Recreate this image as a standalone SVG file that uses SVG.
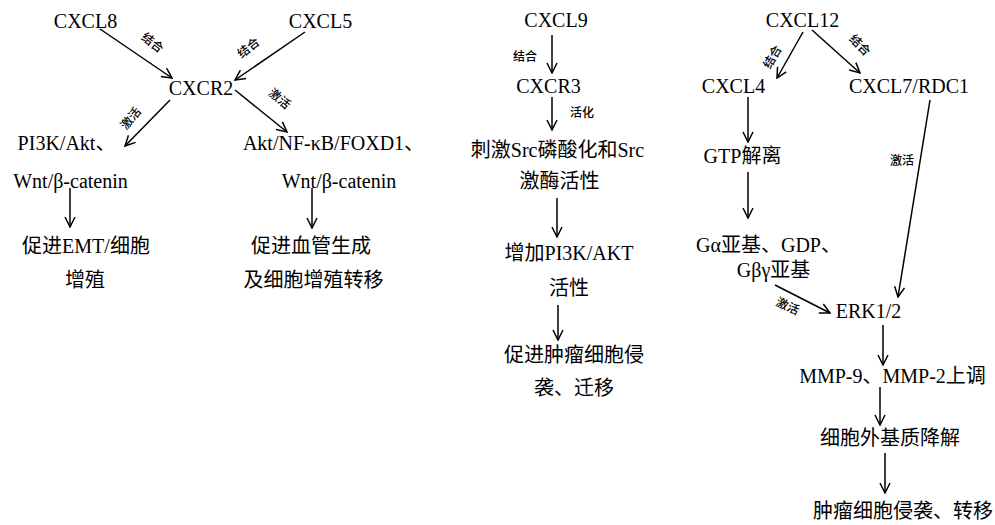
<svg xmlns="http://www.w3.org/2000/svg" width="995" height="525" viewBox="0 0 995 525">
<style>
text{font-family:"Liberation Serif","Noto Sans CJK SC",serif;fill:#000}
.n{font-size:20px;text-anchor:middle}
.l{font-size:12px;text-anchor:middle;font-family:"Noto Sans CJK SC",sans-serif;font-weight:500}
.c line{stroke:#000;stroke-width:1.5;marker-end:url(#a)}
</style>
<defs>
<marker id="a" viewBox="0 0 12 12" refX="11" refY="6" markerWidth="12" markerHeight="12" markerUnits="userSpaceOnUse" orient="auto">
<path d="M1,1 L11,6 L1,11" fill="none" stroke="#000" stroke-width="1.5"/>
</marker>
</defs>
<rect width="995" height="525" fill="#fff"/>
<g id="cxcl8"><text class="n" x="85.5" y="28">CXCL8</text></g>
<g id="cxcl5"><text class="n" x="320.5" y="28">CXCL5</text></g>
<g id="cxcr2"><text class="n" x="201" y="95">CXCR2</text></g>
<g id="pi3k"><text class="n" x="66.5" y="150">PI3K/Akt、</text><text class="n" x="70.5" y="188">Wnt/β-catenin</text></g>
<g id="emt"><text class="n" x="86" y="253">促进EMT/细胞</text><text class="n" x="85" y="287">增殖</text></g>
<g id="akt"><text class="n" x="333.5" y="150">Akt/NF-κB/FOXD1、</text><text class="n" x="339" y="188">Wnt/β-catenin</text></g>
<g id="angio"><text class="n" x="311" y="253">促进血管生成</text><text class="n" x="313.5" y="287">及细胞增殖转移</text></g>
<g id="cxcl9"><text class="n" x="556" y="27">CXCL9</text></g>
<g id="cxcr3"><text class="n" x="548.5" y="93">CXCR3</text></g>
<g id="src"><text class="n" x="557.5" y="157">刺激Src磷酸化和Src</text><text class="n" x="559.5" y="188">激酶活性</text></g>
<g id="pi3kakt"><text class="n" x="569" y="260">增加PI3K/AKT</text><text class="n" x="569" y="295">活性</text></g>
<g id="invade1"><text class="n" x="574" y="362">促进肿瘤细胞侵</text><text class="n" x="574" y="395">袭、迁移</text></g>
<g id="cxcl12"><text class="n" x="802.5" y="27">CXCL12</text></g>
<g id="cxcl4"><text class="n" x="733.5" y="93">CXCL4</text></g>
<g id="cxcl7"><text class="n" x="909" y="93">CXCL7/RDC1</text></g>
<g id="gtp"><text class="n" x="742.5" y="163">GTP解离</text></g>
<g id="galpha"><text class="n" x="768.5" y="252">Gα亚基、GDP、</text><text class="n" x="773.5" y="277">Gβγ亚基</text></g>
<g id="erk"><text class="n" x="868.5" y="318">ERK1/2</text></g>
<g id="mmp"><text class="n" x="892.5" y="383">MMP-9、MMP-2上调</text></g>
<g id="ecm"><text class="n" x="890" y="445">细胞外基质降解</text></g>
<g id="invade2"><text class="n" x="903" y="518">肿瘤细胞侵袭、转移</text></g>
<g class="c" id="connectors">
<line x1="100" y1="29" x2="172" y2="78"/>
<line x1="305" y1="32" x2="235" y2="80"/>
<line x1="170" y1="100" x2="125" y2="146"/>
<line x1="235" y1="90" x2="287" y2="132"/>
<line x1="70" y1="188" x2="70" y2="227"/>
<line x1="312" y1="188" x2="312" y2="228"/>
<line x1="552" y1="35" x2="552" y2="73"/>
<line x1="552" y1="97" x2="552" y2="130"/>
<line x1="557" y1="198" x2="557" y2="237"/>
<line x1="558" y1="305" x2="558" y2="340"/>
<line x1="803" y1="32" x2="777" y2="78"/>
<line x1="812" y1="30" x2="860" y2="73"/>
<line x1="748" y1="97" x2="748" y2="142"/>
<line x1="748" y1="172" x2="748" y2="218"/>
<line x1="930" y1="100" x2="898" y2="297"/>
<line x1="775" y1="285" x2="830" y2="313"/>
<line x1="883" y1="325" x2="883" y2="365"/>
<line x1="880" y1="387" x2="880" y2="425"/>
<line x1="885" y1="453" x2="885" y2="493"/>
</g>
<g id="labels">
<text class="l" transform="translate(150,46) rotate(38)">结合</text>
<text class="l" transform="translate(251,51) rotate(-38)">结合</text>
<text class="l" transform="translate(134,121) rotate(-50)">激活</text>
<text class="l" transform="translate(277,102) rotate(40)">激活</text>
<text class="l" x="525" y="61">结合</text>
<text class="l" x="582" y="117">活化</text>
<text class="l" transform="translate(776,59) rotate(-60)">结合</text>
<text class="l" transform="translate(857,48) rotate(45)">结合</text>
<text class="l" x="902" y="165">激活</text>
<text class="l" transform="translate(786,310) rotate(25)">激活</text>
</g>
</svg>
